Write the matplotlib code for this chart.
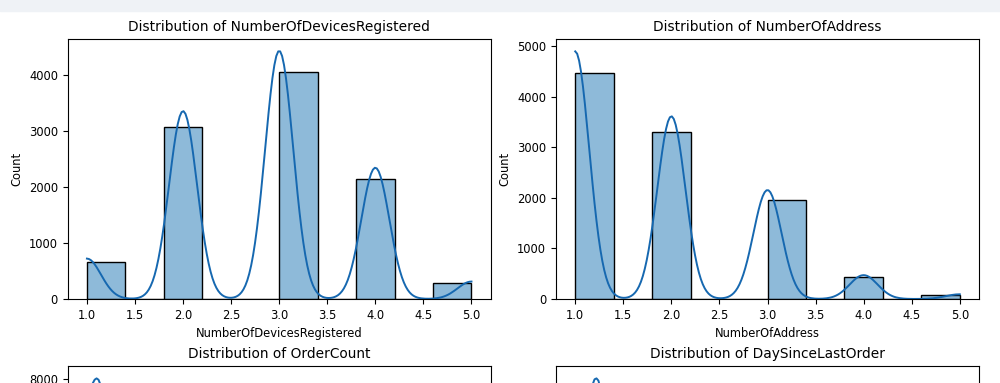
import matplotlib
matplotlib.use("Agg")
import matplotlib.pyplot as plt
from matplotlib.patches import Rectangle
import numpy as np

# counts per distinct value
devices_vals = [1, 2, 3, 4, 5]
devices_counts = [660, 3070, 4055, 2145, 285]

address_vals = [1, 2, 3, 4, 5]
address_counts = [4465, 3295, 1965, 430, 85]

# bottom row is cut off in the picture, only the tops show
order_vals = [1, 2, 3, 4, 5, 6, 7, 8, 9, 10, 11, 12, 13, 14, 15, 16, 17, 18, 19, 20, 21, 22, 24, 26]
order_counts = [3200, 3460, 700, 450, 400, 350, 350, 350, 250, 150, 120, 100, 60, 60, 50, 40,
                20, 15, 10, 10, 10, 10, 10, 25]

days_vals = [0, 1, 2, 3, 4, 5, 6, 7, 8, 9, 10, 11, 12, 13, 14, 15, 16, 17, 30, 31, 46]
days_counts = [760, 1000, 1650, 1650, 1000, 700, 500, 600, 800, 500, 300, 200, 150, 120, 90, 70,
               50, 10, 5, 3, 2]

cols = [("NumberOfDevicesRegistered", devices_vals, devices_counts),
        ("NumberOfAddress", address_vals, address_counts),
        ("OrderCount", order_vals, order_counts),
        ("DaySinceLastOrder", days_vals, days_counts)]

blue = "#1f77b4"
W, H = 1000, 383
fig = plt.figure(figsize=(W / 100, H / 100), dpi=100)
fig.patches.append(Rectangle((0, 1 - 11 / H), 1, 11 / H, transform=fig.transFigure,
                             color="#eff2f6", zorder=0))

axw = 423 / W
axh = 260 / H
pos = [(67.7 / W, 1 - 299 / H), (556 / W, 1 - 299 / H),
       (67.7 / W, 1 - 626 / H), (556 / W, 1 - 626 / H)]


def kde(vals, counts, binwidth):
    v = np.array(vals, dtype=float)
    c = np.array(counts, dtype=float)
    n = c.sum()
    mean = (v * c).sum() / n
    std = np.sqrt((c * (v - mean) ** 2).sum() / (n - 1))
    bw = std * n ** (-1 / 5)
    grid = np.linspace(v.min(), v.max(), 200)
    dens = (c[None, :] * np.exp(-0.5 * ((grid[:, None] - v[None, :]) / bw) ** 2)).sum(1)
    dens = dens / (n * bw * np.sqrt(2 * np.pi))
    return grid, dens * n * binwidth


for (name, vals, counts), p in zip(cols, pos):
    ax = fig.add_axes([p[0], p[1], axw, axh])
    data = np.repeat(vals, counts)
    h, edges = np.histogram(data, bins=10)
    ax.bar(edges[:-1], h, width=np.diff(edges), align="edge", color=blue, alpha=0.5,
           edgecolor="none")
    ax.bar(edges[:-1], h, width=np.diff(edges), align="edge", fill=False,
           edgecolor="black", linewidth=1)
    gx, gy = kde(vals, counts, np.mean(np.diff(edges)))
    ax.plot(gx, gy, color="#1668b0", linewidth=1.4)
    ax.set_title("Distribution of " + name, fontsize=9.9)
    ax.set_xlabel(name, fontsize=8.3)
    ax.set_ylabel("Count", fontsize=8.3)
    ax.tick_params(labelsize=8.3)

fig.savefig("out.png", dpi=100)
